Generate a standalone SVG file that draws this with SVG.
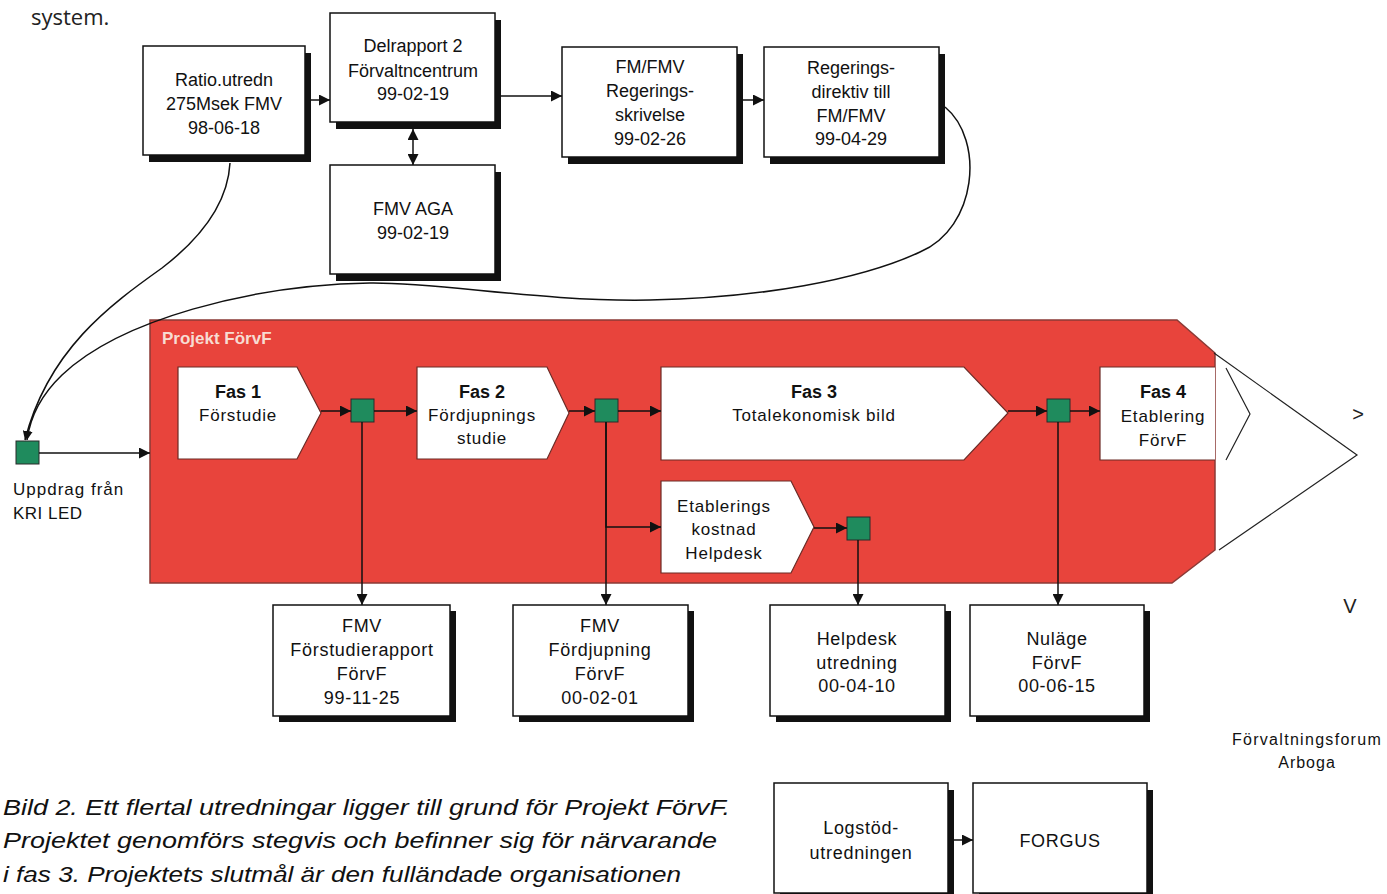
<svg xmlns="http://www.w3.org/2000/svg" width="1387" height="894" viewBox="0 0 1387 894">
<style>
.bx{fill:#fff;stroke:#111;stroke-width:1.5}
.sh{fill:#111}
.t{font-family:"Liberation Sans",Arial,sans-serif;font-size:18px;fill:#111;text-anchor:middle}
.tb{font-family:"Liberation Sans",Arial,sans-serif;font-size:18px;fill:#111;text-anchor:middle;letter-spacing:0.7px}
.tp{font-family:"Liberation Sans",Arial,sans-serif;font-size:17px;fill:#111;text-anchor:middle;letter-spacing:0.8px}
.tpb{font-family:"Liberation Sans",Arial,sans-serif;font-size:18px;font-weight:bold;fill:#111;text-anchor:middle}
.ph{fill:#fff;stroke:#6b2a25;stroke-width:1.2}
.sq{fill:#1f8b5d;stroke:#2a2a2a;stroke-width:1}
.c{fill:none;stroke:#111;stroke-width:1.5}
.thin{fill:none;stroke:#222;stroke-width:1.2}
.cap{font-family:"Liberation Sans",Arial,sans-serif;font-size:22px;font-style:italic;fill:#111}
</style>
<defs>
<marker id="ah" viewBox="0 0 10 10" refX="10" refY="5" markerWidth="11" markerHeight="11" markerUnits="userSpaceOnUse" orient="auto-start-reverse">
<path d="M0,0 L10,5 L0,10 z" fill="#111"/>
</marker>
<marker id="ahs" viewBox="0 0 10 10" refX="10" refY="5" markerWidth="9" markerHeight="9" markerUnits="userSpaceOnUse" orient="auto">
<path d="M0,0 L10,5 L0,10 z" fill="#111"/>
</marker>
</defs>

<rect width="1387" height="894" fill="#fff"/>

<text x="31" y="25" font-family="'Open Sans','Liberation Sans',sans-serif" font-size="22" fill="#222">system.</text>

<!-- Project area -->
<g id="projekt">
<polygon points="150,320 1177,320 1215,353 1215,550 1172,583 150,583" fill="#e8443c" stroke="#8b3a36" stroke-width="1.5"/>
<text x="162" y="344" font-family="'Liberation Sans',Arial,sans-serif" font-size="17" font-weight="bold" fill="#f7dcd2">Projekt FörvF</text>
</g>

<g id="fas1">
<path class="ph" d="M178,367 H297 L321,413 L297,459 H178 Z"/>
<text class="tpb" x="238" y="398">Fas 1</text>
<text class="tp" x="238" y="421">Förstudie</text>
</g>
<g id="fas2">
<path class="ph" d="M417,367 H547 L569,413 L547,459 H417 Z"/>
<text class="tpb" x="482" y="398">Fas 2</text>
<text class="tp" x="482" y="421">Fördjupnings</text>
<text class="tp" x="482" y="444">studie</text>
</g>
<g id="fas3">
<path class="ph" d="M661,367 H964 L1008,413 L964,460 H661 Z"/>
<text class="tpb" x="814" y="398">Fas 3</text>
<text class="tp" x="814" y="421">Totalekonomisk bild</text>
</g>
<g id="fas4">
<path d="M1215,367 H1100 V460 H1215" fill="#fff" stroke="#6b2a25" stroke-width="1.2"/>
<text class="tpb" x="1163" y="398">Fas 4</text>
<text class="tp" x="1163" y="422">Etablering</text>
<text class="tp" x="1163" y="446">FörvF</text>
</g>
<g id="etab">
<path class="ph" d="M661,481 H791 L814,527 L791,573 H661 Z"/>
<text class="tp" x="724" y="512">Etablerings</text>
<text class="tp" x="724" y="535">kostnad</text>
<text class="tp" x="724" y="559">Helpdesk</text>
</g>

<g id="sq-start"><rect class="sq" x="16" y="441" width="23" height="23"/></g>
<g id="sq1"><rect class="sq" x="351" y="399" width="23" height="23"/></g>
<g id="sq2"><rect class="sq" x="595" y="399" width="23" height="23"/></g>
<g id="sq3"><rect class="sq" x="1047" y="399" width="23" height="23"/></g>
<g id="sq4"><rect class="sq" x="847" y="517" width="23" height="23"/></g>

<g id="uppdrag">
<text x="13" y="495" font-family="'Liberation Sans',Arial,sans-serif" font-size="17" letter-spacing="1" fill="#111">Uppdrag från</text>
<text x="13" y="519" font-family="'Liberation Sans',Arial,sans-serif" font-size="17" letter-spacing="0.5" fill="#111">KRI LED</text>
</g>

<!-- Top boxes -->
<g id="ratio">
<rect class="sh" x="149" y="53" width="162" height="109"/>
<rect class="bx" x="143" y="46" width="162" height="109"/>
<text class="t" x="224" y="86">Ratio.utredn</text>
<text class="t" x="224" y="110">275Msek FMV</text>
<text class="t" x="224" y="134">98-06-18</text>
</g>
<g id="delrapport">
<rect class="sh" x="336" y="20" width="165" height="109"/>
<rect class="bx" x="330" y="13" width="165" height="109"/>
<text class="t" x="413" y="52">Delrapport 2</text>
<text class="t" x="413" y="77">Förvaltncentrum</text>
<text class="t" x="413" y="100">99-02-19</text>
</g>
<g id="fmvaga">
<rect class="sh" x="336" y="172" width="165" height="109"/>
<rect class="bx" x="330" y="165" width="165" height="109"/>
<text class="t" x="413" y="215">FMV AGA</text>
<text class="t" x="413" y="239">99-02-19</text>
</g>
<g id="skrivelse">
<rect class="sh" x="568" y="54" width="175" height="110"/>
<rect class="bx" x="562" y="47" width="175" height="110"/>
<text class="t" x="650" y="73">FM/FMV</text>
<text class="t" x="650" y="97">Regerings-</text>
<text class="t" x="650" y="121">skrivelse</text>
<text class="t" x="650" y="145">99-02-26</text>
</g>
<g id="direktiv">
<rect class="sh" x="770" y="54" width="175" height="110"/>
<rect class="bx" x="764" y="47" width="175" height="110"/>
<text class="t" x="851" y="74">Regerings-</text>
<text class="t" x="851" y="98">direktiv till</text>
<text class="t" x="851" y="122">FM/FMV</text>
<text class="t" x="851" y="145">99-04-29</text>
</g>

<!-- Bottom boxes -->
<g id="forstudierapport">
<rect class="sh" x="279" y="611" width="177" height="111"/>
<rect class="bx" x="273" y="605" width="177" height="111"/>
<text class="tb" x="362" y="632">FMV</text>
<text class="tb" x="362" y="656">Förstudierapport</text>
<text class="tb" x="362" y="680">FörvF</text>
<text class="tb" x="362" y="704">99-11-25</text>
</g>
<g id="fordjupning">
<rect class="sh" x="519" y="611" width="175" height="111"/>
<rect class="bx" x="513" y="605" width="175" height="111"/>
<text class="tb" x="600" y="632">FMV</text>
<text class="tb" x="600" y="656">Fördjupning</text>
<text class="tb" x="600" y="680">FörvF</text>
<text class="tb" x="600" y="704">00-02-01</text>
</g>
<g id="helpdesk">
<rect class="sh" x="776" y="611" width="175" height="111"/>
<rect class="bx" x="770" y="605" width="175" height="111"/>
<text class="tb" x="857" y="645">Helpdesk</text>
<text class="tb" x="857" y="669">utredning</text>
<text class="tb" x="857" y="692">00-04-10</text>
</g>
<g id="nulage">
<rect class="sh" x="976" y="611" width="174" height="111"/>
<rect class="bx" x="970" y="605" width="174" height="111"/>
<text class="tb" x="1057" y="645">Nuläge</text>
<text class="tb" x="1057" y="669">FörvF</text>
<text class="tb" x="1057" y="692">00-06-15</text>
</g>
<g id="logstod">
<rect class="sh" x="780" y="790" width="174" height="110"/>
<rect class="bx" x="774" y="783" width="174" height="110"/>
<text class="tb" x="861" y="834">Logstöd-</text>
<text class="tb" x="861" y="859">utredningen</text>
</g>
<g id="forgus">
<rect class="sh" x="979" y="790" width="174" height="110"/>
<rect class="bx" x="973" y="783" width="174" height="110"/>
<text class="tb" x="1060" y="847">FORGUS</text>
</g>

<g id="forum">
<text x="1307" y="745" font-family="'Liberation Sans',Arial,sans-serif" font-size="16" letter-spacing="1.3" fill="#111" text-anchor="middle">Förvaltningsforum</text>
<text x="1307" y="768" font-family="'Liberation Sans',Arial,sans-serif" font-size="16" letter-spacing="1" fill="#111" text-anchor="middle">Arboga</text>
</g>

<!-- Chevron marks on the right -->
<g id="chevrons">
<polyline class="thin" points="1214,353 1357,455 1219,550"/>
<polyline class="thin" points="1226,368 1250,414 1226,460"/>
<text x="1358" y="421" font-family="'Liberation Sans',Arial,sans-serif" font-size="20" fill="#222" text-anchor="middle">&gt;</text>
<text x="1350" y="613" font-family="'Liberation Sans',Arial,sans-serif" font-size="20" fill="#222" text-anchor="middle">V</text>
</g>

<!-- Connectors -->
<g id="connectors">
<path class="c" d="M311,100 H330" marker-end="url(#ah)"/>
<path class="c" d="M501,96 H562" marker-end="url(#ah)"/>
<path class="c" d="M743,100 H764" marker-end="url(#ah)"/>
<path class="c" d="M413,129 V165" marker-start="url(#ah)" marker-end="url(#ah)"/>
<path class="c" d="M230,163 C228,200 205,235 162,268 C110,305 48,350 25,440" marker-end="url(#ahs)"/>
<path class="c" d="M945,107 C985,140 977,228 920,252 C860,280 760,298 650,300 C540,302 440,282 370,283 C250,285 120,320 62,375 C40,396 30,418 27,440" marker-end="url(#ahs)"/>
<path class="c" d="M39,453 H150" marker-end="url(#ah)"/>
<path class="c" d="M321,411 H351" marker-end="url(#ah)"/>
<path class="c" d="M374,411 H417" marker-end="url(#ah)"/>
<path class="c" d="M569,411 H595" marker-end="url(#ah)"/>
<path class="c" d="M618,411 H661" marker-end="url(#ah)"/>
<path class="c" d="M1008,411 H1047" marker-end="url(#ah)"/>
<path class="c" d="M1070,411 H1100" marker-end="url(#ah)"/>
<path class="c" d="M606,422 V527 H661" marker-end="url(#ah)"/>
<path class="c" d="M814,528 H847" marker-end="url(#ah)"/>
<path class="c" d="M362,422 V605" marker-end="url(#ah)"/>
<path class="c" d="M606,422 V605" marker-end="url(#ah)"/>
<path class="c" d="M858,540 V605" marker-end="url(#ah)"/>
<path class="c" d="M1058,422 V605" marker-end="url(#ah)"/>
<path class="c" d="M954,840 H973" marker-end="url(#ah)"/>
</g>

<g id="caption">
<text class="cap" x="3" y="815" textLength="727" lengthAdjust="spacingAndGlyphs">Bild 2. Ett flertal utredningar ligger till grund för Projekt FörvF.</text>
<text class="cap" x="3" y="848" textLength="714" lengthAdjust="spacingAndGlyphs">Projektet genomförs stegvis och befinner sig för närvarande</text>
<text class="cap" x="3" y="882" textLength="678" lengthAdjust="spacingAndGlyphs">i fas 3. Projektets slutmål är den fulländade organisationen</text>
</g>
</svg>
